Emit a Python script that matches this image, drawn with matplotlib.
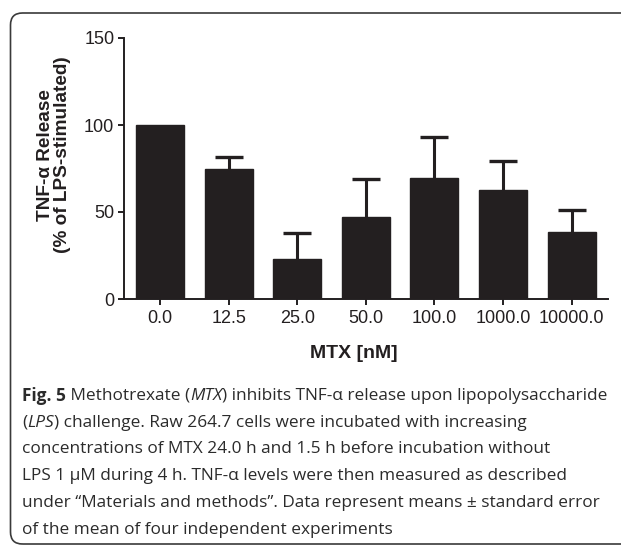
import matplotlib
matplotlib.use("Agg")
import matplotlib.pyplot as plt
import numpy as np
from matplotlib.patches import FancyBboxPatch
from matplotlib.transforms import IdentityTransform

# data
concentrations = ["0.0", "12.5", "25.0", "50.0", "100.0", "1000.0", "10000.0"]
tnf_release = np.array([100, 74.5, 23, 47.3, 69.5, 62.6, 38.7])
sem = np.array([0, 6.9, 14.8, 21.5, 23.8, 16.7, 12.4])

caption_lines = [
    [("Fig. 5", "bold"), (" Methotrexate (", "normal"), ("MTX", "italic"),
     (") inhibits TNF-α release upon lipopolysaccharide", "normal")],
    [("(", "normal"), ("LPS", "italic"),
     (") challenge. Raw 264.7 cells were incubated with increasing", "normal")],
    [("concentrations of MTX 24.0 h and 1.5 h before incubation without", "normal")],
    [("LPS 1 μM during 4 h. TNF-α levels were then measured as described", "normal")],
    [("under “Materials and methods”. Data represent means ± standard error", "normal")],
    [("of the mean of four independent experiments", "normal")],
]

W, H = 621, 546
fig = plt.figure(figsize=(W / 100, H / 100), dpi=100)

# rounded frame (pixel coords, origin bottom-left)
frame = FancyBboxPatch((10.5, H - 544), 660, 531,
                       boxstyle="round,pad=0,rounding_size=12",
                       transform=IdentityTransform(), fill=False,
                       edgecolor="#3a3a3a", linewidth=1.2, clip_on=False)
fig.patches.append(frame)

ax = fig.add_axes([124 / W, 1 - 299 / H, (608 - 124) / W, (299 - 38) / H])
x = np.arange(len(concentrations))
dark = "#231f20"
ax.bar(x, tnf_release, width=0.70, color=dark, edgecolor=dark, zorder=2)

# upper error bars only
has_err = sem > 0
ax.vlines(x[has_err], tnf_release[has_err], (tnf_release + sem)[has_err],
          color=dark, linewidth=2.2, zorder=1)
ax.plot(x[has_err], (tnf_release + sem)[has_err], linestyle="none", marker="_",
        markersize=19.5, markeredgewidth=2.4, color=dark, zorder=1)

ax.set_xlim(-0.525, 6.53)
ax.set_ylim(0, 150)
ax.set_yticks([0, 50, 100, 150])
ax.set_xticks(x)
ax.set_xticklabels(concentrations)
for s in ["top", "right"]:
    ax.spines[s].set_visible(False)
for s in ["left", "bottom"]:
    ax.spines[s].set_linewidth(1.4)
    ax.spines[s].set_color(dark)
ax.tick_params(axis="both", direction="out", length=4, width=1.4, color=dark,
               labelsize=13, labelcolor=dark, pad=3)
ax.tick_params(axis="x", pad=4)
for lab in ax.get_xticklabels() + ax.get_yticklabels():
    lab.set_family("Liberation Sans")

ax.set_xlabel("MTX [nM]", fontsize=14, fontweight="bold", family="Liberation Sans",
              color=dark)
ax.xaxis.set_label_coords((354 - 124) / 484, (299 - 353) / 261)
ax.xaxis.label.set_va("center")
ax.set_ylabel("TNF-α Release\n(% of LPS-stimulated)", fontsize=13.7, fontweight="bold",
              family="Liberation Sans", color=dark, linespacing=1.05)
ax.yaxis.set_label_coords((54 - 124) / 484, (299 - 155) / 261)
ax.yaxis.label.set_va("center")

# caption, drawn run by run so bold / italic parts sit inline
fig.canvas.draw()
renderer = fig.canvas.get_renderer()
y0 = 396
for i, runs in enumerate(caption_lines):
    xpos = 22
    for txt, style in runs:
        kw = dict(fontsize=12.4, family="Open Sans", color="#2b2b2b", va="center", ha="left")
        if style == "bold":
            kw["fontweight"] = "bold"
        if style == "italic":
            kw["fontstyle"] = "italic"
        t = fig.text(xpos / W, 1 - (y0 + i * 26.7) / H, txt, **kw)
        xpos += t.get_window_extent(renderer).width

fig.savefig("out.png", dpi=100)
